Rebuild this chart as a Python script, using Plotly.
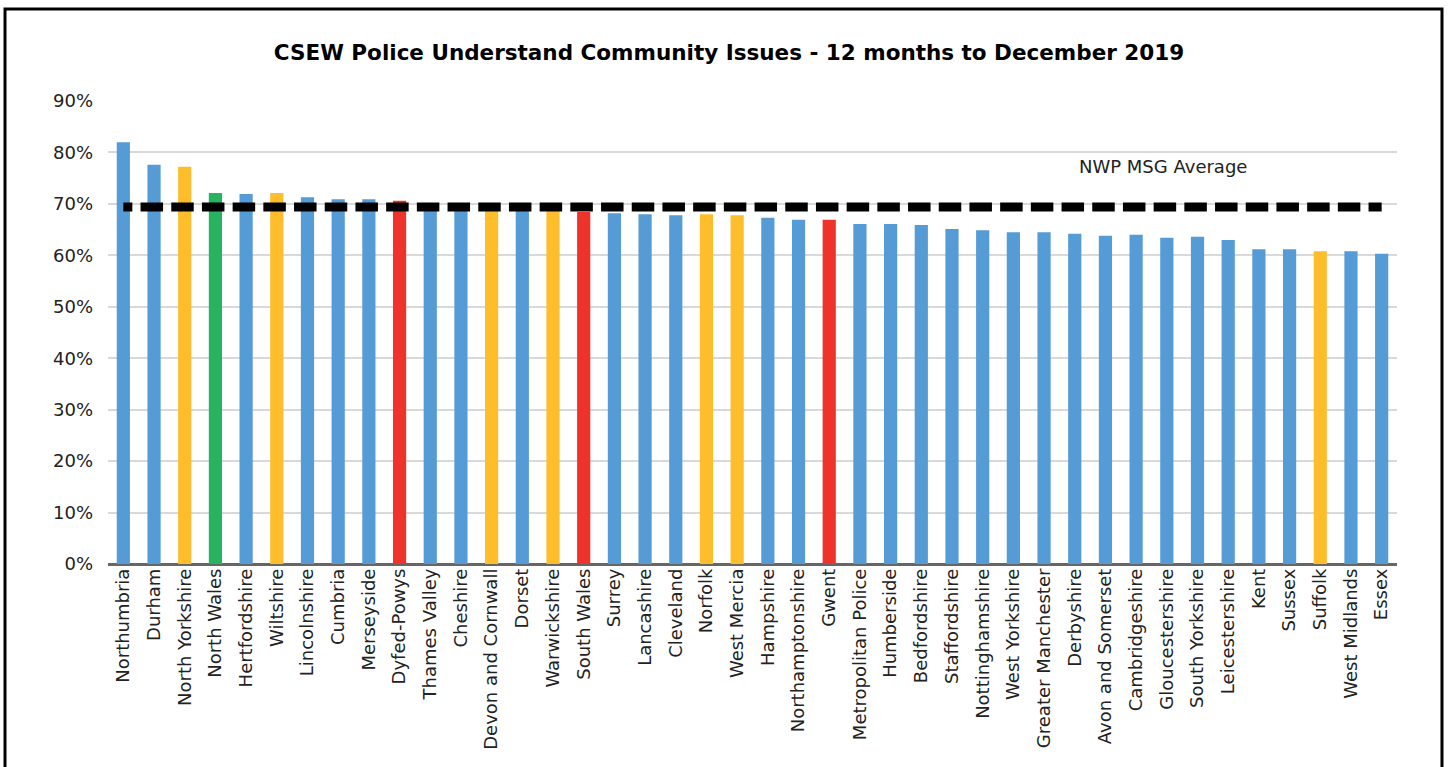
import plotly.graph_objects as go

forces = ["Northumbria", "Durham", "North Yorkshire", "North Wales", "Hertfordshire", "Wiltshire",
          "Lincolnshire", "Cumbria", "Merseyside", "Dyfed-Powys", "Thames Valley", "Cheshire",
          "Devon and Cornwall", "Dorset", "Warwickshire", "South Wales", "Surrey", "Lancashire",
          "Cleveland", "Norfolk", "West Mercia", "Hampshire", "Northamptonshire", "Gwent",
          "Metropolitan Police", "Humberside", "Bedfordshire", "Staffordshire", "Nottinghamshire",
          "West Yorkshire", "Greater Manchester", "Derbyshire", "Avon and Somerset",
          "Cambridgeshire", "Gloucestershire", "South Yorkshire", "Leicestershire", "Kent",
          "Sussex", "Suffolk", "West Midlands", "Essex"]

values = [0.820, 0.776, 0.772, 0.721, 0.719, 0.721, 0.713, 0.709, 0.709, 0.706, 0.698, 0.696,
          0.696, 0.694, 0.690, 0.684, 0.682, 0.680, 0.678, 0.680, 0.678, 0.673, 0.669, 0.669,
          0.661, 0.661, 0.659, 0.651, 0.649, 0.645, 0.645, 0.642, 0.638, 0.640, 0.634, 0.636,
          0.630, 0.612, 0.612, 0.608, 0.608, 0.603]

# group of each force: msg = most similar group, nwp = North Wales, wales = other Welsh forces
groups = ["other", "other", "msg", "nwp", "other", "msg", "other", "other", "other", "wales",
          "other", "other", "msg", "other", "msg", "wales", "other", "other", "other", "msg",
          "msg", "other", "other", "wales", "other", "other", "other", "other", "other", "other",
          "other", "other", "other", "other", "other", "other", "other", "other", "other", "msg",
          "other", "other"]

msg_average = 0.694
avg_label = "NWP MSG Average"
title_text = "CSEW Police Understand Community Issues - 12 months to December 2019"
y_ticks = [0, 0.1, 0.2, 0.3, 0.4, 0.5, 0.6, 0.7, 0.8, 0.9]

palette = {"other": "#559BD5", "msg": "#FEBD2A", "nwp": "#27B35F", "wales": "#EE332D"}
colors = [palette[g] for g in groups]

FONT = "DejaVu Sans"

# dash pattern: shorter first dash, then regular dashes (one per category step)
dash_pattern = "9px,8.2px," + ",".join(["22.5px,8.2px"] * (len(forces)))

fig = go.Figure()
fig.add_trace(go.Bar(x=forces, y=values, marker=dict(color=colors, line=dict(width=0)),
                     showlegend=False, hoverinfo="x+y"))
fig.add_trace(go.Scatter(x=forces, y=[msg_average] * len(forces), mode="lines",
                         line=dict(color="black", width=9, dash=dash_pattern),
                         showlegend=False, name=avg_label))

fig.add_annotation(x=0.8185, xref="paper", y=0.772, yref="y", text=avg_label, showarrow=False,
                   font=dict(family=FONT, size=18, color="#222222"), xanchor="center", yanchor="middle")

# outer frame
fig.add_shape(type="rect", xref="paper", yref="paper", x0=-0.0799, x1=1.0349, y0=-0.5, y1=1.1987,
              line=dict(color="black", width=3), fillcolor="rgba(0,0,0,0)", layer="above")

fig.update_layout(
    width=1448, height=767,
    margin=dict(l=108, r=51, t=101, b=203),
    paper_bgcolor="white", plot_bgcolor="white",
    bargap=0.57,
    title=dict(text="<b>" + title_text + "</b>", x=729 / 1448, xref="container", xanchor="center",
               y=1 - 52 / 767, yanchor="middle",
               font=dict(family=FONT, size=21.5, color="black")),
    font=dict(family=FONT, size=18, color="#222222"),
    xaxis=dict(tickangle=-90, showgrid=False, showline=False, ticks="",
               tickfont=dict(family=FONT, size=18, color="#222222"), automargin=False),
    yaxis=dict(range=[0, 0.9], tickvals=y_ticks, tickformat=".0%", showgrid=True,
               gridcolor="#D9D9D9", gridwidth=1.5, zeroline=True, zerolinecolor="#666666",
               zerolinewidth=2.5, ticks="", ticklabelstandoff=14,
               tickfont=dict(family=FONT, size=18, color="#222222"), automargin=False),
)

fig.write_html("out.html", config={"displayModeBar": False},
               post_script="document.body.style.margin='0';")
